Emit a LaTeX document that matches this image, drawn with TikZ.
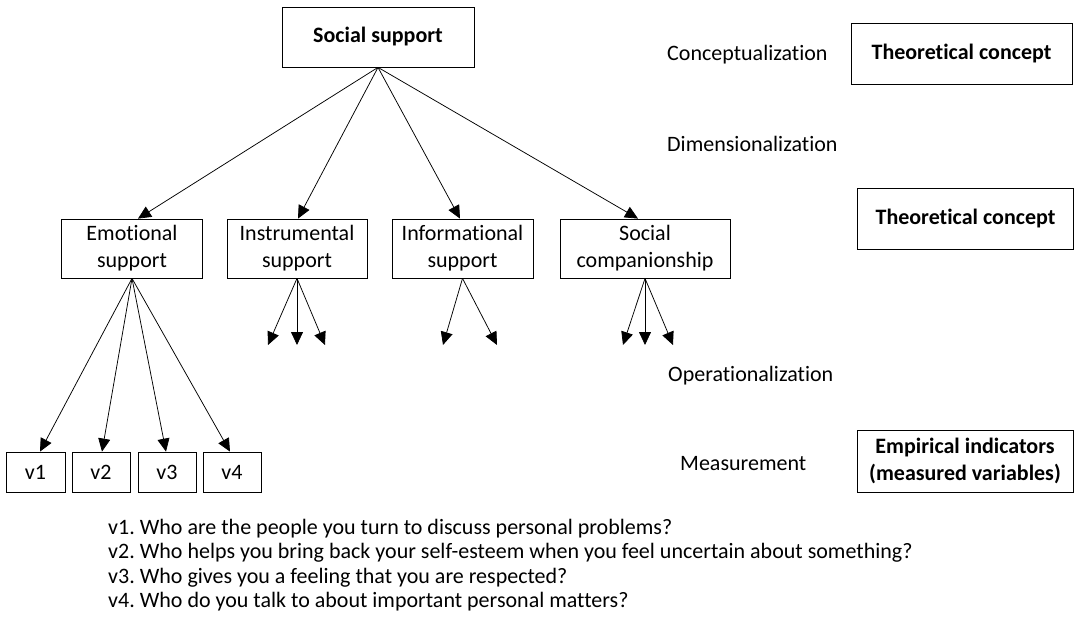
\documentclass[tikz,border=0pt]{standalone}
\usepackage{fontspec}
\setmainfont{Carlito}[Ligatures=NoCommon]
\usetikzlibrary{arrows.meta}
\frenchspacing
\begin{document}
\begin{tikzpicture}[x=1pt,y=-1pt,
  txt/.style={font=\fontsize{22}{27}\selectfont},
  box/.style={txt, draw, line width=0.8pt, inner sep=0pt, align=center},
  bbox/.style={box, font=\fontsize{22}{27}\selectfont\bfseries},
  lbl/.style={txt, anchor=base west, inner sep=0pt},
  arr/.style={-{Triangle[length=13pt,width=12pt]}, line width=0.75pt}]
\useasboundingbox (0,0) rectangle (1075,623);

% top concept
\node[bbox, minimum width=192, minimum height=60] (ss) at (378,37) {Social support};

% right column boxes
\node[bbox, minimum width=221, minimum height=61] (tc1) at (961.5,53.5) {Theoretical concept};
\node[bbox, minimum width=216, minimum height=61] (tc2) at (965.5,218.5) {Theoretical concept};
\node[bbox, minimum width=216, minimum height=62] (emp) at (965,461) {Empirical indicators\\(measured variables)};

% process labels
\node[lbl] (l1) at (667,61) {Conceptualization};
\node[lbl] (l2) at (667,151) {Dimensionalization};
\node[lbl] (l3) at (668,381) {Operationalization};
\node[lbl] (l4) at (680,470) {Measurement};

% dimensions
\node[box, minimum width=141, minimum height=59] (emo) at (132,248.5) {Emotional\\support};
\node[box, minimum width=140, minimum height=59] (ins) at (297,248.5) {Instrumental\\support};
\node[box, minimum width=141, minimum height=59] (inf) at (462.5,248.5) {Informational\\support};
\node[box, minimum width=170, minimum height=59] (soc) at (645,248.5) {Social\\companionship};

% indicators
\node[box, minimum width=59, minimum height=40] (v1) at (35.5,472) {v1};
\node[box, minimum width=58, minimum height=40] (v2) at (101,472) {v2};
\node[box, minimum width=58, minimum height=40] (v3) at (167,472) {v3};
\node[box, minimum width=58, minimum height=40] (v4) at (232,472) {v4};

% free arrow ends
\coordinate (i1) at (268,345);
\coordinate (i2) at (297,345);
\coordinate (i3) at (325,345);
\coordinate (f1) at (443,345);
\coordinate (f2) at (497,345);
\coordinate (s1) at (623,345);
\coordinate (s2) at (645,345);
\coordinate (s3) at (673,345);

% connectors
\draw[arr] (ss.south) -- ([xshift=6]emo.north);
\draw[arr] (ss.south) -- ([xshift=1]ins.north);
\draw[arr] (ss.south) -- ([xshift=-2.5]inf.north);
\draw[arr] (ss.south) -- ([xshift=-7]soc.north);

\draw[arr] (emo.south) -- ([xshift=4.5]v1.north);
\draw[arr] (emo.south) -- ([xshift=1]v2.north);
\draw[arr] (emo.south) -- ([xshift=-1]v3.north);
\draw[arr] (emo.south) -- ([xshift=-2]v4.north);

\draw[arr] (ins.south) -- (i1);
\draw[arr] (ins.south) -- (i2);
\draw[arr] (ins.south) -- (i3);
\draw[arr] (inf.south) -- (f1);
\draw[arr] (inf.south) -- (f2);
\draw[arr] (soc.south) -- (s1);
\draw[arr] (soc.south) -- (s2);
\draw[arr] (soc.south) -- (s3);

% questions
\node[lbl] (q1) at (108,534) {v1. Who are the people you turn to discuss personal problems?};
\node[lbl] (q2) at (108,558.5) {v2. Who helps you bring back your self-esteem when you feel uncertain about something?};
\node[lbl] (q3) at (108,583) {v3. Who gives you a feeling that you are respected?};
\node[lbl] (q4) at (108,607.5) {v4. Who do you talk to about important personal matters?};
\end{tikzpicture}
\end{document}
